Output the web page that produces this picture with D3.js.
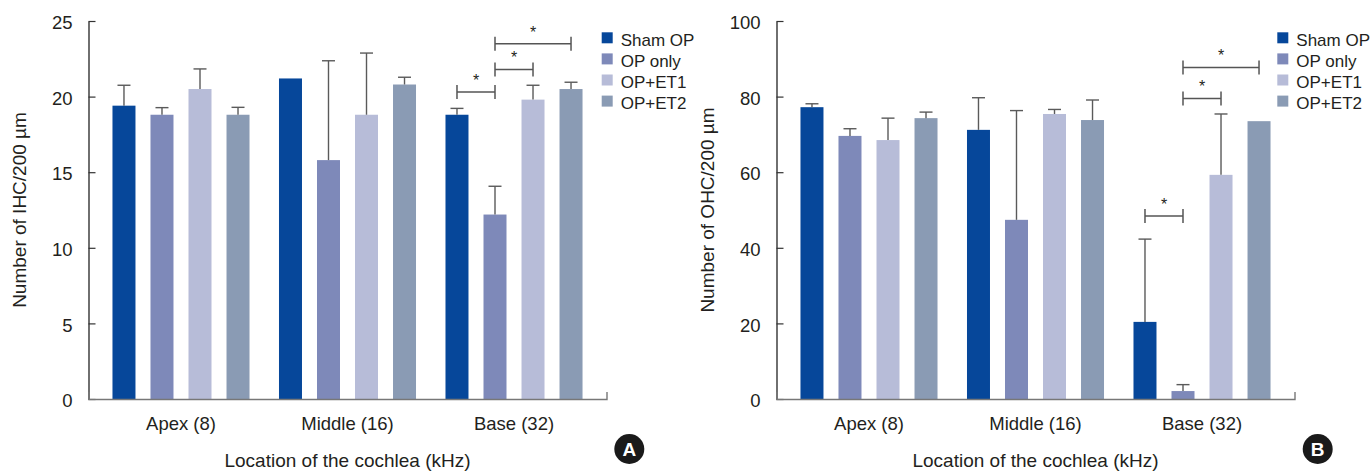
<!DOCTYPE html>
<html>
<head>
<meta charset="utf-8">
<script src="https://cdn.jsdelivr.net/npm/d3@7"></script>
<style>
	body { margin: 0; background: #fff; }
	text { font-family: "Liberation Sans", Arial, sans-serif; fill: #231f20; }
</style>
</head>
<body>
<svg id="fig" width="1370" height="471"></svg>
<script>
// Hair cell counts per 200 um, panels A (IHC) and B (OHC)

var groups = ['Apex (8)', 'Middle (16)', 'Base (32)']
var series = ['Sham OP', 'OP only', 'OP+ET1', 'OP+ET2']
var colors = ['#06479a', '#7e89b9', '#b7bcd8', '#8a9bb4']

// means and SD, rows = groups, columns = series
var ihcMean = [[19.4, 18.8, 20.5, 18.8], [21.2, 15.8, 18.8, 20.8], [18.8, 12.2, 19.8, 20.5]]
var ihcSd   = [[1.35, 0.47, 1.33, 0.49], [0, 6.57, 4.08, 0.48], [0.42, 1.87, 0.95, 0.45]]
var ohcMean = [[77.2, 69.6, 68.5, 74.3], [71.2, 47.4, 75.4, 73.8], [20.4, 2.1, 59.3, 73.5]]
var ohcSd   = [[0.9, 1.9, 5.8, 1.6], [8.5, 28.9, 1.2, 5.3], [21.9, 1.7, 16.1, 0]]

// significance brackets: group, from series, to series, height (data units)
var ihcSig = [[2, 0, 1, 20.3], [2, 1, 2, 21.8], [2, 1, 3, 23.5]]
var ohcSig = [[2, 0, 1, 48.4], [2, 1, 2, 79.5], [2, 1, 3, 87.7]]

var ihcTicks = [0, 5, 10, 15, 20, 25]
var ohcTicks = [0, 20, 40, 60, 80, 100]

var svg = d3.select('#fig')

function panel(opt) {
	var left = opt.left, right = opt.left + 518, top = 21, bottom = 399
	var g = svg.append('g')

	var x0 = d3.scaleBand().domain(groups).range([left, right])
		.paddingInner(0.177).paddingOuter(0.144)
	var x1 = d3.scaleBand().domain(d3.range(series.length)).range([0, x0.bandwidth()])
		.paddingInner(0.395)
	var y = d3.scaleLinear().domain([0, opt.max]).range([bottom, top])

	// bars
	var bars = []
	opt.mean.forEach(function(row, gi) {
		row.forEach(function(v, si) {
			bars.push({g: gi, s: si, v: v, sd: opt.sd[gi][si]})
		})
	})
	var cx = function(d) { return x0(groups[d.g]) + x1(d.s) + x1.bandwidth() / 2 }

	g.selectAll('rect.bar').data(bars).enter().append('rect')
		.attr('x', function(d) { return x0(groups[d.g]) + x1(d.s) })
		.attr('y', function(d) { return y(d.v) })
		.attr('width', x1.bandwidth())
		.attr('height', function(d) { return bottom - y(d.v) })
		.attr('fill', function(d) { return colors[d.s] })

	// error bars (upper only)
	var eb = g.selectAll('g.err').data(bars.filter(function(d) { return d.sd > 0 }))
		.enter().append('g')
		.attr('stroke', '#5a5a5a').attr('stroke-width', 1.4)
	eb.append('line')
		.attr('x1', cx).attr('x2', cx)
		.attr('y1', function(d) { return y(d.v) })
		.attr('y2', function(d) { return y(d.v + d.sd) })
	eb.append('line')
		.attr('x1', function(d) { return cx(d) - 6.5 }).attr('x2', function(d) { return cx(d) + 6.5 })
		.attr('y1', function(d) { return y(d.v + d.sd) })
		.attr('y2', function(d) { return y(d.v + d.sd) })

	// significance brackets
	var sig = g.selectAll('g.sig').data(opt.sig).enter().append('g')
	var bx = function(gi, si) { return x0(groups[gi]) + x1(si) + x1.bandwidth() / 2 }
	sig.append('path')
		.attr('fill', 'none').attr('stroke', '#555').attr('stroke-width', 1.5)
		.attr('d', function(d) {
			var a = bx(d[0], d[1]), b = bx(d[0], d[2]), h = y(d[3])
			return 'M' + a + ',' + (h - 7) + 'V' + (h + 7) + 'M' + a + ',' + h + 'H' + b +
				'M' + b + ',' + (h - 7) + 'V' + (h + 7)
		})
	sig.append('text')
		.attr('x', function(d) { return (bx(d[0], d[1]) + bx(d[0], d[2])) / 2 })
		.attr('y', function(d) { return y(d[3]) - 6 })
		.attr('text-anchor', 'middle').style('font-size', '16px')
		.text('*')

	// y axis
	var ya = g.append('g').attr('transform', 'translate(' + left + ',0)')
		.call(d3.axisLeft(y).tickValues(opt.ticks).tickSizeInner(-7).tickSizeOuter(0).tickPadding(16))
	ya.select('.domain').attr('stroke', '#333').attr('stroke-width', 1.4)
	ya.selectAll('.tick line').attr('stroke', '#333').attr('stroke-width', 1.2)
	ya.selectAll('.tick text').style('font-size', '18.5px').attr('dy', '0.42em')
		.style('font-family', '"Liberation Sans", Arial, sans-serif').attr('fill', '#231f20')

	// x axis
	var xa = g.append('g').attr('transform', 'translate(0,' + bottom + ')')
		.call(d3.axisBottom(x0).tickSizeInner(0).tickSizeOuter(-7).tickPadding(18))
	xa.select('.domain').attr('stroke', '#777').attr('stroke-width', 1.4)
	xa.selectAll('.tick text').style('font-size', '18.5px')
		.style('font-family', '"Liberation Sans", Arial, sans-serif').attr('fill', '#231f20')

	// axis titles
	g.append('text').text('Location of the cochlea (kHz)')
		.attr('x', (left + right) / 2).attr('y', 466.5)
		.attr('text-anchor', 'middle').style('font-size', '19px')
	g.append('text').text(opt.title)
		.attr('transform', 'translate(' + (left - 62.5) + ',' + ((top + bottom) / 2) + ') rotate(-90)')
		.attr('text-anchor', 'middle').style('font-size', '19px')

	// legend
	var lg = g.append('g').attr('transform', 'translate(' + opt.legendX + ',32.3)')
	var item = lg.selectAll('g').data(series).enter().append('g')
		.attr('transform', function(d, i) { return 'translate(0,' + (i * 21.1) + ')' })
	item.append('rect').attr('width', 11).attr('height', 11)
		.attr('fill', function(d, i) { return colors[i] })
	item.append('text').attr('x', 19).attr('y', 13.3).style('font-size', '17px')
		.text(function(d) { return d })

	// panel letter
	g.append('circle').attr('cx', opt.badgeX).attr('cy', 449).attr('r', 15).attr('fill', '#1a1a1a')
	g.append('text').text(opt.letter)
		.attr('x', opt.badgeX).attr('y', 449).attr('dy', '0.36em')
		.attr('text-anchor', 'middle').style('font-size', '19px').style('font-weight', 'bold')
		.style('fill', '#fff')
}

panel({left: 88.5, max: 25, ticks: ihcTicks, mean: ihcMean, sd: ihcSd, sig: ihcSig,
	title: 'Number of IHC/200 µm', legendX: 601.7, badgeX: 629.3, letter: 'A'})
panel({left: 776.5, max: 100, ticks: ohcTicks, mean: ohcMean, sd: ohcSd, sig: ohcSig,
	title: 'Number of OHC/200 µm', legendX: 1277.3, badgeX: 1317.7, letter: 'B'})
</script>
</body>
</html>
